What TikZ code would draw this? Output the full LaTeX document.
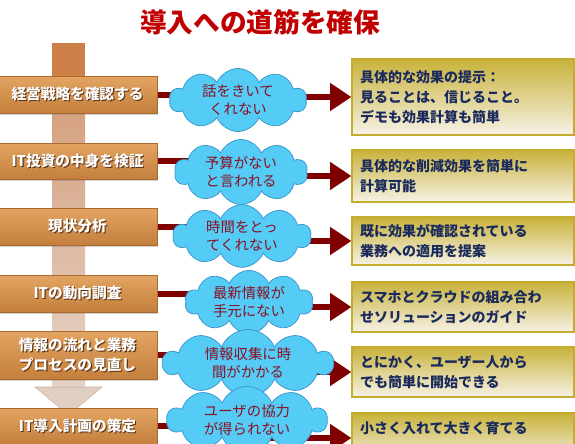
\documentclass[tikz,border=0pt]{standalone}
\usepackage{fontspec}
\setmainfont{Noto Sans CJK JP}
\usetikzlibrary{shapes.symbols,arrows.meta,backgrounds,shadows}
\definecolor{titlered}{HTML}{C00000}
\definecolor{lboxtop}{HTML}{E3A462}
\definecolor{lboxbot}{HTML}{C47F3C}
\definecolor{lboxdraw}{HTML}{A86A30}
\definecolor{shadowc}{HTML}{5A3010}
\definecolor{barsq}{HTML}{CC7F47}
\definecolor{bartop}{HTML}{D39C78}
\definecolor{barbot}{HTML}{E6D4C8}
\definecolor{arrowhd}{HTML}{E2CFC3}
\definecolor{arrowdraw}{HTML}{C9AE9E}
\definecolor{cloudfill}{HTML}{55CCF5}
\definecolor{clouddraw}{HTML}{3E9ACD}
\definecolor{cloudtext}{HTML}{8A1025}
\definecolor{darkred}{HTML}{800000}
\definecolor{rboxtop}{HTML}{C8B23A}
\definecolor{rboxbot}{HTML}{F6F2E6}
\definecolor{rboxdraw}{HTML}{C4AC2C}
\definecolor{navy}{HTML}{1A2A5C}
\newcommand\shline[1]{\makebox[0pt][l]{\kern0.8pt\raisebox{-0.8pt}{\color{shadowc}#1}}#1}
\tikzset{
  lbox/.style={rectangle, minimum width=159*0.75pt, inner sep=0pt,
    top color=lboxtop, bottom color=lboxbot, draw=lboxdraw, line width=0.6pt,
    drop shadow={shadow xshift=1pt, shadow yshift=-1.5pt, opacity=0.35},
    text=white, font=\bfseries\fontsize{11}{15}\selectfont, align=center},
  cloudbox/.style={cloud, cloud puffs=10, cloud puff arc=135, cloud ignores aspect,
    fill=cloudfill, draw=clouddraw, line width=0.6pt, inner sep=0pt,
    text=cloudtext, font=\fontsize{10.8}{13.5}\selectfont, align=center},
  rbox/.style={rectangle, minimum width=218*0.75pt, inner xsep=6pt, inner ysep=0pt,
    top color=rboxtop, bottom color=rboxbot, draw=rboxdraw, line width=0.8pt,
    text=navy, font=\bfseries\fontsize{10.5}{15}\selectfont, align=left,
    text width=206*0.75pt},
  conn/.style={darkred, line width=4.5pt},
  rarrow/.style={darkred, line width=5pt, -{Triangle[length=16pt, width=20pt]}},
}
\begin{document}
\begin{tikzpicture}[x=0.75pt,y=-0.75pt]
\useasboundingbox (0,0) rectangle (575,443);
% title
\node[text=titlered, font=\bfseries\fontsize{20}{24}\selectfont] (title) at (260,22) {導入への道筋を確保};
% vertical bar
\fill[barsq] (52,43) rectangle (85,78);
\shade[top color=bartop, bottom color=barbot] (52,78) rectangle (85,387);
\filldraw[fill=arrowhd, draw=arrowdraw, line width=0.4pt] (35,387) -- (102,387) -- (68.5,415) -- cycle;
% left boxes
\node[lbox, minimum height=37*0.75pt] (l1) at (77.5,94.5) {\shline{経営戦略を確認する}};
\node[lbox, minimum height=36*0.75pt] (l2) at (77.5,161) {\shline{IT投資の中身を検証}};
\node[lbox, minimum height=37*0.75pt] (l3) at (77.5,226.5) {\shline{現状分析}};
\node[lbox, minimum height=37*0.75pt] (l4) at (77.5,293.5) {\shline{ITの動向調査}};
\node[lbox, minimum height=48*0.75pt] (l5) at (77.5,355) {\shline{情報の流れと業務}\\\shline{プロセスの見直し}};
\node[lbox, minimum height=36*0.75pt] (l6) at (77.5,426) {\shline{IT導入計画の策定}};
% clouds
\node[cloudbox, minimum width=137*0.75pt, minimum height=63*0.75pt] (c1) at (238,100) {話をきいて\\くれない};
\node[cloudbox, minimum width=133*0.75pt, minimum height=65*0.75pt] (c2) at (241,172) {予算がない\\と言われる};
\node[cloudbox, minimum width=138*0.75pt, minimum height=62*0.75pt] (c3) at (242,236) {時間をとっ\\てくれない};
\node[cloudbox, minimum width=128*0.75pt, minimum height=61*0.75pt] (c4) at (249,302) {最新情報が\\手元にない};
\node[cloudbox, minimum width=170*0.75pt, minimum height=60*0.75pt] (c5) at (248,363) {情報収集に時\\間がかかる};
\node[cloudbox, minimum width=160*0.75pt, minimum height=58*0.75pt] (c6) at (247,420) {ユーザの協力\\が得られない};
% right boxes
\node[rbox, minimum height=76*0.75pt] (r1) at (463,97) {具体的な効果の提示：\\見ることは、信じること。\\デモも効果計算も簡単};
\node[rbox, minimum height=52*0.75pt] (r2) at (463,176) {具体的な削減効果を簡単に\\計算可能};
\node[rbox, minimum height=48*0.75pt] (r3) at (463,241) {既に効果が確認されている\\業務への適用を提案};
\node[rbox, minimum height=50*0.75pt] (r4) at (463,307) {スマホとクラウドの組み合わ\\せソリューションのガイド};
\node[rbox, minimum height=50*0.75pt] (r5) at (463,372) {とにかく、ユーザー人から\\でも簡単に開始できる};
\node[rbox, minimum height=50*0.75pt] (r6) at (463,438) {小さく入れて大きく育てる\\\mbox{}};
% connectors
\begin{scope}[on background layer]
\draw[conn] (l1.east) -- (l1.east -| c1.center);
\draw[conn] (l2.east) -- (l2.east -| c2.center);
\draw[conn] (l3.east) -- (l3.east -| c3.center);
\draw[conn] (l4.east) -- (l4.east -| c4.center);
\draw[conn] (l5.east) -- (l5.east -| c5.center);
\draw[conn] (l6.east) -- (l6.east -| c6.center);
\draw[rarrow] (c1.center |- r1.west) -- (r1.west);
\draw[rarrow] (c2.center |- r2.west) -- (r2.west);
\draw[rarrow] (c3.center |- r3.west) -- (r3.west);
\draw[rarrow] (c4.center |- r4.west) -- (r4.west);
\draw[rarrow] (c5.center |- r5.west) -- (r5.west);
\draw[rarrow] (c6.center |- r6.west) -- (r6.west);
\end{scope}
\end{tikzpicture}
\end{document}
